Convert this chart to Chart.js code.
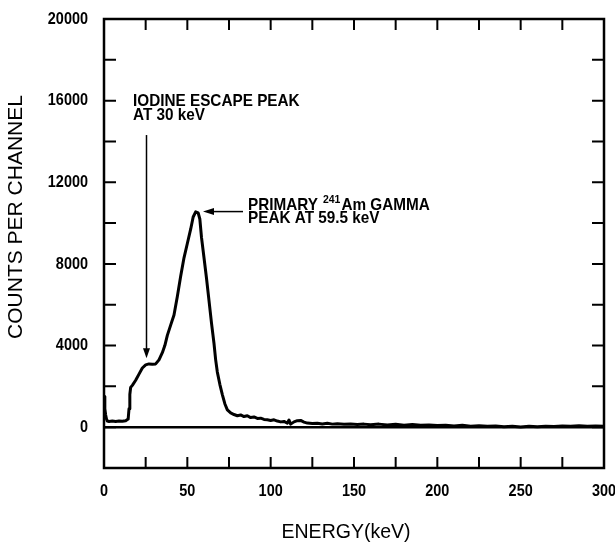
<!DOCTYPE html>
<html><head><meta charset="utf-8">
<script src="https://cdn.jsdelivr.net/npm/chart.js@4"></script>
<style>html,body{margin:0;padding:0;background:#fff}</style>
</head><body>
<canvas id="c" width="615" height="542"></canvas>
<script>
// ---- data ----
const energy = [0,0.5,1,1.5,2,3,5,7,9,11,13,14.5,15,15.5,16,17,19,21,23,25,27,29,31,33,35,36.5,38,40,42,44,46,48,50,52,53.5,55,56.5,57.5,58.5,60,61.5,63,64.5,66,67,68,69.5,71,72.5,74,76,78,80,82,84,86,88,90,92,94,96,98,100,102,104,106,108,110,111,112,114,116,118,120,122,125,128,131,134,137,140,144,148,152,156,160,165,170,175,180,185,190,195,200,205,210,215,220,225,230,235,240,245,250,255,260,265,270,275,280,285,290,295,300];
const counts = [1500,900,600,400,300,280,300,280,300,290,320,400,900,1600,1950,2050,2300,2600,2900,3050,3100,3080,3100,3300,3650,4000,4500,5000,5500,6400,7400,8300,9000,9700,10300,10550,10500,10200,9300,8300,7300,6200,5100,4100,3300,2700,2100,1600,1150,850,700,620,560,600,520,560,470,500,430,440,380,360,330,360,300,260,280,200,350,150,260,320,330,250,200,180,190,160,190,150,170,140,160,130,150,120,150,110,140,100,130,90,110,80,100,60,90,50,70,40,60,20,50,10,40,20,50,30,60,40,70,50,60,50];
const xTickValues = [0,25,50,75,100,125,150,175,200,225,250,275,300];
const xTickLabels = ['0','','50','','100','','150','','200','','250','','300'];
const yTickValues = [-2000,0,2000,4000,6000,8000,10000,12000,14000,16000,18000,20000];
const yTickLabels = ['','0','','4000','','8000','','12000','','16000','','20000'];
const xTitle = 'ENERGY(keV)';
const yTitle = 'COUNTS PER CHANNEL';
const iodineLines = ['IODINE ESCAPE PEAK','AT 30 keV'];
const primaryLine1 = ['PRIMARY','241','Am GAMMA'];
const primaryLine2 = 'PEAK AT 59.5 keV';

// ---- layout / style ----
const SANS = '"Liberation Sans",Arial,sans-serif';
const annot = {
  iodineText: {x:17.4, y:15735, step:14},
  iodineArrow: {x:25.5, y0:14314, y1:3382},
  primaryText: {x:86.4, y:10637, step:13},
  primaryArrow: {y:10564, x0:83.4, x1:59.4}
};

const points = energy.map((e,i)=>({x:e,y:counts[i]}));

function narrowText(ctx, txt, x, y, sx, align){
  ctx.save();
  ctx.translate(x,y); ctx.scale(sx,1);
  ctx.textAlign=align||'left';
  ctx.fillText(txt,0,0);
  const w=ctx.measureText(txt).width*sx;
  ctx.restore();
  return w;
}

const framePlugin = {
  id:'frame',
  afterDraw(chart){
    const {ctx, chartArea:a, scales:{x,y}} = chart;
    ctx.save();
    ctx.strokeStyle='#000'; ctx.fillStyle='#000';
    ctx.lineWidth=2.5;
    ctx.strokeRect(a.left,a.top,a.right-a.left,a.bottom-a.top);
    ctx.lineWidth=2;
    ctx.beginPath();
    xTickValues.forEach(v=>{
      if(v<=x.min||v>=x.max) return;
      const px=x.getPixelForValue(v);
      ctx.moveTo(px,a.bottom); ctx.lineTo(px,a.bottom-11);
      ctx.moveTo(px,a.top); ctx.lineTo(px,a.top+11);
    });
    yTickValues.forEach(v=>{
      if(v<=y.min||v>=y.max) return;
      const py=y.getPixelForValue(v);
      ctx.moveTo(a.left,py); ctx.lineTo(a.left+12,py);
      ctx.moveTo(a.right,py); ctx.lineTo(a.right-12,py);
    });
    ctx.stroke();

    // tick labels (condensed bold, positioned by the scales)
    ctx.font='bold 17px '+SANS;
    ctx.textBaseline='middle';
    xTickValues.forEach((v,i)=>{
      if(!xTickLabels[i]) return;
      narrowText(ctx,xTickLabels[i],x.getPixelForValue(v),a.bottom+23,0.85,'center');
    });
    yTickValues.forEach((v,i)=>{
      if(!yTickLabels[i]) return;
      narrowText(ctx,yTickLabels[i],a.left-16,y.getPixelForValue(v),0.85,'right');
    });

    // titles
    ctx.textAlign='center'; ctx.textBaseline='middle';
    ctx.font='19.5px '+SANS;
    ctx.fillText(xTitle,(a.left+a.right)/2-8,533);
    ctx.save();
    ctx.font='21px '+SANS;
    ctx.translate(16,217); ctx.rotate(-Math.PI/2);
    ctx.fillText(yTitle,0,0);
    ctx.restore();

    // annotations
    const AS=0.9;
    ctx.font='bold 17px '+SANS;
    ctx.textBaseline='alphabetic';
    let tx=x.getPixelForValue(annot.iodineText.x), ty=y.getPixelForValue(annot.iodineText.y);
    iodineLines.forEach((l,i)=>narrowText(ctx,l,tx,ty+i*annot.iodineText.step,AS));

    tx=x.getPixelForValue(annot.primaryText.x); ty=y.getPixelForValue(annot.primaryText.y);
    let cx=tx;
    cx+=narrowText(ctx,primaryLine1[0],cx,ty,AS)+5;
    ctx.font='bold 11px '+SANS;
    cx+=narrowText(ctx,primaryLine1[1],cx,ty-7,0.95)+1;
    ctx.font='bold 17px '+SANS;
    narrowText(ctx,primaryLine1[2],cx,ty,AS);
    narrowText(ctx,primaryLine2,tx,ty+annot.primaryText.step,AS);

    // arrows
    ctx.lineWidth=1.5;
    const ax=x.getPixelForValue(annot.iodineArrow.x);
    const ay0=y.getPixelForValue(annot.iodineArrow.y0), ay1=y.getPixelForValue(annot.iodineArrow.y1);
    ctx.beginPath(); ctx.moveTo(ax,ay0); ctx.lineTo(ax,ay1-8); ctx.stroke();
    ctx.beginPath(); ctx.moveTo(ax,ay1); ctx.lineTo(ax-3.5,ay1-10); ctx.lineTo(ax+3.5,ay1-10); ctx.closePath(); ctx.fill();
    const by=y.getPixelForValue(annot.primaryArrow.y);
    const bx0=x.getPixelForValue(annot.primaryArrow.x0), bx1=x.getPixelForValue(annot.primaryArrow.x1);
    ctx.beginPath(); ctx.moveTo(bx0,by); ctx.lineTo(bx1+8,by); ctx.stroke();
    ctx.beginPath(); ctx.moveTo(bx1,by); ctx.lineTo(bx1+11,by-3.5); ctx.lineTo(bx1+11,by+3.5); ctx.closePath(); ctx.fill();
    ctx.restore();
  }
};

new Chart(document.getElementById('c'),{
  type:'line',
  data:{datasets:[{data:points,borderColor:'#000',borderWidth:3,pointRadius:0,tension:0,fill:false,borderJoinStyle:'round'}]},
  options:{
    responsive:false, animation:false, devicePixelRatio:1,
    layout:{padding:{left:0,right:11,top:19,bottom:0}},
    plugins:{legend:{display:false},tooltip:{enabled:false}},
    scales:{
      x:{type:'linear',min:0,max:300,
        afterBuildTicks(s){s.ticks=xTickValues.map(v=>({value:v}));},
        afterFit(s){s.height=74;},
        ticks:{display:false,callback:(v)=>xTickLabels[xTickValues.indexOf(v)]??''},
        grid:{display:false,drawTicks:false},
        border:{display:false}
      },
      y:{type:'linear',min:-2000,max:20000,
        afterBuildTicks(s){s.ticks=yTickValues.map(v=>({value:v}));},
        afterFit(s){s.width=104;},
        ticks:{display:false,callback:(v)=>yTickLabels[yTickValues.indexOf(v)]??''},
        grid:{drawTicks:false,color:(c)=>c.tick&&c.tick.value===0?'#000':'rgba(0,0,0,0)',lineWidth:(c)=>c.tick&&c.tick.value===0?2.5:0},
        border:{display:false}
      }
    }
  },
  plugins:[framePlugin]
});
</script>
</body></html>
